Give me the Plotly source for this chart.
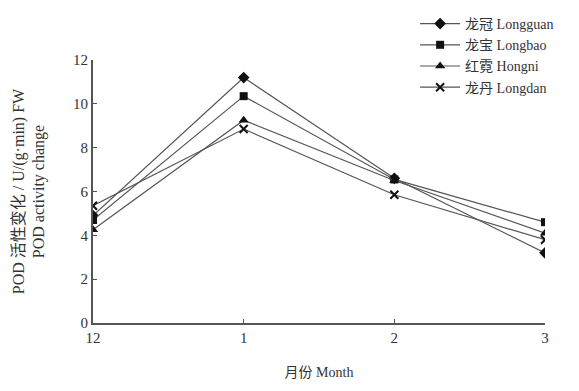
import plotly.graph_objects as go

months = ["12", "1", "2", "3"]
series_names = ["龙冠 Longguan", "龙宝 Longbao", "红霓 Hongni", "龙丹 Longdan"]
longguan = [4.9, 11.2, 6.6, 3.2]
longbao = [4.7, 10.35, 6.55, 4.6]
hongni = [4.25, 9.25, 6.5, 4.1]
longdan = [5.35, 8.85, 5.85, 3.8]
y_ticks = [0, 2, 4, 6, 8, 10, 12]

symbols = ["diamond", "square", "triangle-up", "x-thin"]
sizes = [9, 8, 9, 8]
data = [longguan, longbao, hongni, longdan]

FONT = "Liberation Serif, Noto Sans CJK SC"
xpos = list(range(len(months)))

fig = go.Figure()
for name, vals, sym, sz in zip(series_names, data, symbols, sizes):
    fig.add_trace(go.Scatter(
        x=xpos, y=vals, name=name, mode="lines+markers",
        line=dict(color="#555555", width=1.2),
        marker=dict(symbol=sym, size=sz, color="#111111",
                    line=dict(color="#111111", width=2 if sym == "x-thin" else 0)),
    ))

fig.update_layout(
    width=571, height=383,
    margin=dict(l=85, r=34, t=52, b=68, autoexpand=False),
    paper_bgcolor="white", plot_bgcolor="white",
    font=dict(family=FONT, size=14, color="#333333"),
    showlegend=True,
    legend=dict(x=0.713, y=1.0, xref="container", yref="container", xanchor="left", yanchor="top",
                bgcolor="rgba(0,0,0,0)", font=dict(family=FONT, size=14, color="#333333"),
                tracegroupgap=0, itemwidth=40),
    xaxis=dict(range=[0, 3], tickvals=xpos, ticktext=months, automargin=False,
               showgrid=False, zeroline=False, showline=True, linecolor="#555555", linewidth=2,
               ticks="inside", ticklen=4, tickcolor="#555555",
               tickfont=dict(family=FONT, size=15),
               title=dict(text="月份 Month", font=dict(family=FONT, size=14), standoff=22)),
    yaxis=dict(range=[0, 12], tickvals=y_ticks, automargin=False,
               showgrid=False, zeroline=False, showline=True, linecolor="#555555", linewidth=2,
               ticks="inside", ticklen=4, tickcolor="#555555",
               tickfont=dict(family=FONT, size=15),
               title=dict(text="POD 活性变化 / U/(g·min) FW<br>POD activity change",
                          font=dict(family=FONT, size=16), standoff=24)),
)

fig.write_html("out.html")
